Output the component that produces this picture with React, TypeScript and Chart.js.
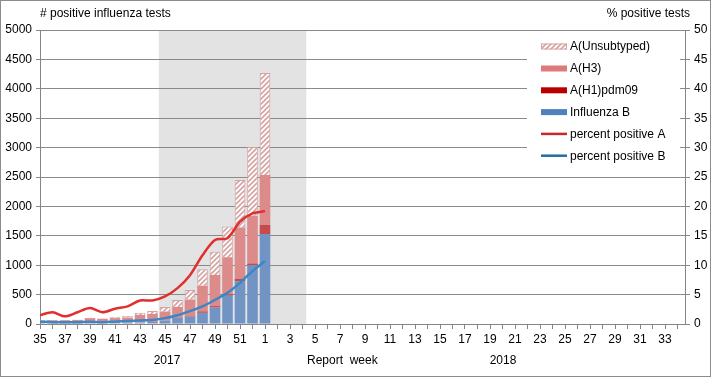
import React, { useEffect, useRef } from "react";
import { Chart, registerables } from "chart.js";

Chart.register(...registerables);

const weeks = [
  "35","36","37","38","39","40","41","42","43","44","45","46","47","48","49","50","51","52",
  "1","2","3","4","5","6","7","8","9","10","11","12","13","14","15","16","17","18","19","20",
  "21","22","23","24","25","26","27","28","29","30","31","32","33","34",
];

const influenzaB = [15, 10, 10, 10, 15, 10, 15, 20, 25, 35, 60, 105, 125, 190, 280, 480, 730, 1000, 1530];
const aH1pdm09 = [0, 0, 0, 0, 0, 0, 0, 0, 0, 0, 0, 5, 10, 25, 25, 25, 40, 30, 155];
const aH3 = [45, 55, 55, 60, 85, 80, 85, 90, 130, 135, 150, 180, 280, 435, 530, 630, 870, 810, 850];
const aUnsubtyped = [0, 0, 0, 0, 0, 0, 20, 25, 35, 50, 80, 120, 165, 280, 395, 525, 810, 1170, 1735];
const percentA = [1.5, 2.0, 1.3, 2.0, 2.7, 2.0, 2.6, 3.0, 4.0, 4.0, 4.7, 6.1, 8.3, 11.7, 14.3, 14.6, 17.4, 18.8, 19.2];
const percentB = [0.4, 0.3, 0.3, 0.3, 0.4, 0.3, 0.4, 0.5, 0.6, 0.7, 1.0, 1.5, 2.2, 3.0, 4.1, 5.3, 7.0, 9.0, 10.7];

const leftTicks = [0, 500, 1000, 1500, 2000, 2500, 3000, 3500, 4000, 4500, 5000];
const rightTicks = [0, 5, 10, 15, 20, 25, 30, 35, 40, 45, 50];

const shadeFrom = "45";
const shadeTo = "4";

const FONT = "'Liberation Sans', Arial, sans-serif";

function makeHatch(bg: string, fg: string) {
  const s = 5;
  const c = document.createElement("canvas");
  c.width = s;
  c.height = s;
  const g = c.getContext("2d")!;
  g.fillStyle = bg;
  g.fillRect(0, 0, s, s);
  g.strokeStyle = fg;
  g.lineWidth = 1.7;
  g.beginPath();
  g.moveTo(0, s);
  g.lineTo(s, 0);
  g.moveTo(-s / 2, s / 2);
  g.lineTo(s / 2, -s / 2);
  g.moveTo(s / 2, s * 1.5);
  g.lineTo(s * 1.5, s / 2);
  g.stroke();
  return g.createPattern(c, "repeat")!;
}

const toXY = (arr: number[]) => arr.map((v, i) => ({ x: i, y: v }));

export default function App() {
  const ref = useRef<HTMLCanvasElement>(null);

  useEffect(() => {
    const canvas = ref.current!;
    const hatch = makeHatch("#ffffff", "#d9a3a3");

    const legendItems = [
      { label: "A(Unsubtyped)", type: "hatch", color: "#d9a3a3" },
      { label: "A(H3)", type: "bar", color: "#df7a7a" },
      { label: "A(H1)pdm09", type: "bar", color: "#b80000" },
      { label: "Influenza B", type: "bar", color: "#4f81bd" },
      { label: "percent positive A", type: "line", color: "#c8282a" },
      { label: "percent positive B", type: "line", color: "#1f6f9f" },
    ];

    const decor = {
      id: "decor",
      beforeDraw(chart: any) {
        const ctx = chart.ctx;
        const x = chart.scales.x;
        const area = chart.chartArea;
        const x0 = x.getPixelForValue(weeks.indexOf(shadeFrom) - 0.5);
        const x1 = x.getPixelForValue(weeks.indexOf(shadeTo) + 0.3);
        ctx.save();
        ctx.fillStyle = "#ffffff";
        ctx.fillRect(0, 0, chart.width, chart.height);
        ctx.fillStyle = "#e3e3e3";
        ctx.fillRect(x0, area.top, x1 - x0, area.bottom - area.top);
        ctx.restore();
      },
      afterDraw(chart: any) {
        const ctx = chart.ctx;
        ctx.save();
        ctx.fillStyle = "#ffffff";
        ctx.fillRect(527, 33, 153, 139);
        const rowY = [46.5, 68.5, 90.3, 112.1, 133.9, 155.7];
        legendItems.forEach((it, k) => {
          const y = rowY[k];
          if (it.type === "hatch") {
            ctx.fillStyle = hatch;
            ctx.fillRect(541, y - 3, 26, 6);
            ctx.strokeStyle = it.color;
            ctx.lineWidth = 1;
            ctx.strokeRect(541.5, y - 2.5, 25, 5);
          } else if (it.type === "bar") {
            ctx.fillStyle = it.color;
            ctx.fillRect(541, y - 3, 26, 6);
          } else {
            ctx.strokeStyle = it.color;
            ctx.lineWidth = 2.5;
            ctx.beginPath();
            ctx.moveTo(541, y);
            ctx.lineTo(567, y);
            ctx.stroke();
          }
          ctx.fillStyle = "#000000";
          ctx.font = `12px ${FONT}`;
          ctx.textAlign = "left";
          ctx.textBaseline = "middle";
          ctx.fillText(it.label, 570, y + 0.5);
        });
        ctx.fillStyle = "#000000";
        ctx.font = `12px ${FONT}`;
        ctx.textBaseline = "alphabetic";
        ctx.textAlign = "left";
        ctx.fillText("# positive influenza tests", 40, 17);
        ctx.textAlign = "right";
        ctx.fillText("% positive tests", 690, 17);
        ctx.textBaseline = "middle";
        ctx.textAlign = "center";
        ctx.fillText("2017", 167, 361);
        ctx.fillText("2018", 503, 361);
        ctx.textAlign = "left";
        ctx.fillText("Report  week", 307, 361);
        ctx.strokeStyle = "#8c8c8c";
        ctx.lineWidth = 1;
        ctx.strokeRect(0.5, 0.5, 710, 376);
        ctx.restore();
      },
    };

    const barCommon = {
      type: "bar" as const,
      yAxisID: "y",
      stack: "s",
      order: 2,
      barPercentage: 0.85,
      categoryPercentage: 1,
    };

    const chart = new Chart(canvas, {
      type: "bar",
      data: {
        datasets: [
          { ...barCommon, label: "Influenza B", data: toXY(influenzaB), backgroundColor: "#7294c4" },
          { ...barCommon, label: "A(H1)pdm09", data: toXY(aH1pdm09), backgroundColor: "#c64b4b" },
          { ...barCommon, label: "A(H3)", data: toXY(aH3), backgroundColor: "#dd8a8a" },
          {
            ...barCommon,
            label: "A(Unsubtyped)",
            data: toXY(aUnsubtyped),
            backgroundColor: hatch,
            borderColor: "#d2a4a4",
            borderWidth: 1,
          },
          {
            type: "line",
            label: "percent positive A",
            data: toXY(percentA),
            yAxisID: "y1",
            borderColor: "#e0302e",
            borderWidth: 2.5,
            pointRadius: 0,
            tension: 0.3,
            order: 1,
            fill: false,
          } as any,
          {
            type: "line",
            label: "percent positive B",
            data: toXY(percentB),
            yAxisID: "y1",
            borderColor: "#3a87c8",
            borderWidth: 2.5,
            pointRadius: 0,
            tension: 0.3,
            order: 1,
            fill: false,
          } as any,
        ],
      },
      options: {
        responsive: false,
        animation: false,
        events: [],
        layout: { padding: { top: 30, left: 0, right: 0, bottom: 0 } },
        plugins: { legend: { display: false }, tooltip: { enabled: false } },
        scales: {
          x: {
            type: "linear",
            min: 0,
            max: 51.6,
            offset: false,
            stacked: true,
            afterBuildTicks: (s: any) => {
              s.ticks = weeks.map((_, i) => ({ value: i }));
            },
            grid: {
              offset: false,
              drawOnChartArea: false,
              drawTicks: true,
              tickLength: 5,
              color: "#868686",
            },
            border: { color: "#868686" },
            ticks: {
              autoSkip: false,
              maxRotation: 0,
              minRotation: 0,
              padding: 3,
              color: "#000000",
              font: { family: FONT, size: 12 },
              callback: (v: any) => (Number(v) % 2 === 0 ? weeks[Number(v)] : ""),
            },
            afterFit: (s: any) => {
              s.height = 54;
            },
          },
          y: {
            position: "left",
            min: 0,
            max: 5000,
            stacked: true,
            afterBuildTicks: (s: any) => {
              s.ticks = leftTicks.map((v) => ({ value: v }));
            },
            grid: { color: "#8a8a8a", drawTicks: true, tickLength: 4 },
            border: { color: "#868686" },
            ticks: {
              padding: 4,
              color: "#000000",
              font: { family: FONT, size: 12 },
              callback: (v: any) => String(v),
            },
            afterFit: (s: any) => {
              s.width = 40;
            },
          },
          y1: {
            position: "right",
            min: 0,
            max: 50,
            afterBuildTicks: (s: any) => {
              s.ticks = rightTicks.map((v) => ({ value: v }));
            },
            grid: { drawOnChartArea: false, drawTicks: true, tickLength: 5, color: "#868686" },
            border: { color: "#868686" },
            ticks: {
              padding: 4,
              color: "#000000",
              font: { family: FONT, size: 12 },
              callback: (v: any) => String(v),
            },
            afterFit: (s: any) => {
              s.width = 31;
            },
          },
        },
      },
      plugins: [decor],
    });

    return () => chart.destroy();
  }, []);

  return (
    <div style={{ position: "absolute", left: 0, top: 0, width: 716, height: 378 }}>
      <canvas ref={ref} width={716} height={378} style={{ width: 716, height: 378 }} />
    </div>
  );
}
